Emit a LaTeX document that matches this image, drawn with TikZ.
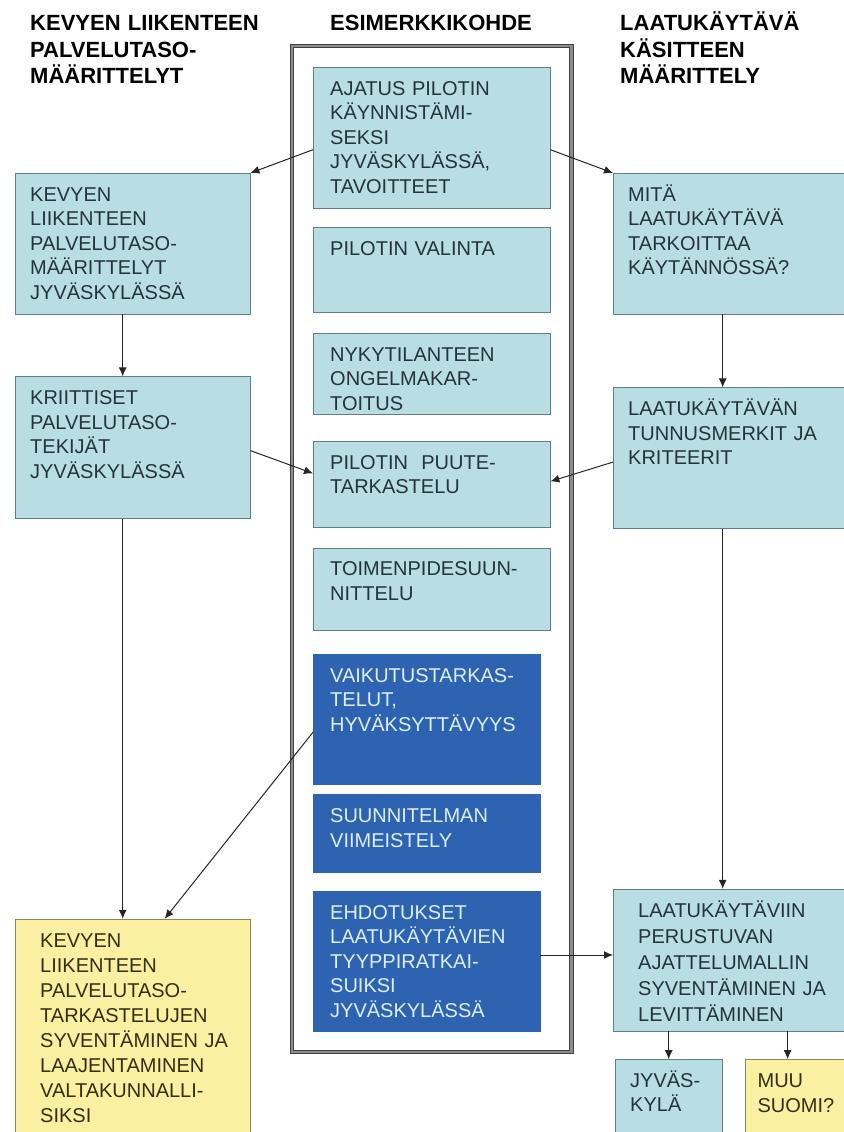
\documentclass[tikz,border=0pt]{standalone}
\usepackage{fontspec}
\setmainfont{Liberation Sans}
\usepackage{tikz}
\usetikzlibrary{positioning, fit, arrows.meta}
\definecolor{vaalea}{HTML}{B8DDE3}
\definecolor{vaaleareuna}{HTML}{5E7F87}
\definecolor{tumma}{HTML}{2E63B2}
\definecolor{tummateksti}{HTML}{DCEFF7}
\definecolor{keltainen}{HTML}{FBF0A2}
\definecolor{keltareuna}{HTML}{8A875E}
\definecolor{teksti}{HTML}{24343A}
\definecolor{keltateksti}{HTML}{332E14}
\tikzstyle{otsikko} = [anchor=base west, align=left, text width=250pt, inner sep=0pt, font=\fontsize{22}{26.5}\selectfont\bfseries]
\tikzstyle{laatikko} = [rectangle, draw=vaaleareuna, fill=vaalea, text=teksti, align=left, inner ysep=13pt, text height=15pt, font=\fontsize{20}{24.5}\selectfont]
\tikzstyle{vaihe} = [laatikko, text width=203pt, inner xsep=17pt]
\tikzstyle{tummavaihe} = [vaihe, draw=tumma, fill=tumma, text=tummateksti, text width=193pt]
\tikzstyle{sivu} = [laatikko, text width=205pt, inner xsep=15pt]
\tikzstyle{oikea} = [laatikko, text width=203pt, inner xsep=15pt]
\tikzstyle{tulos} = [laatikko, fill=keltainen, draw=keltareuna, text=keltateksti, text width=185pt, inner xsep=25pt, font=\fontsize{20}{25}\selectfont]
\tikzstyle{kehys} = [rectangle, draw=black!75, double=black!45, double distance=2.5pt, line width=0.9pt, inner sep=21pt]
\tikzstyle{arrow} = [line width=1pt, draw=black!85, ->, >={Latex[length=9pt,width=8pt]}]

\begin{document}
\begin{tikzpicture}[x=1pt, y=-1pt]
    \useasboundingbox (0,0) rectangle (843,1132);

    % Otsikot
    \node (otsikko1) [otsikko] at (30,31) {KEVYEN LIIKENTEEN\\PALVELUTASO-\\MÄÄRITTELYT};
    \node (otsikko2) [otsikko] at (330,31) {ESIMERKKIKOHDE};
    \node (otsikko3) [otsikko] at (620,31) {LAATUKÄYTÄVÄ\\KÄSITTEEN\\MÄÄRITTELY};

    % Esimerkkikohde
    \node (b1) [vaihe, text depth=100pt, anchor=north west] at (313,67) {AJATUS PILOTIN\\KÄYNNISTÄMI-\\SEKSI\\JYVÄSKYLÄSSÄ,\\TAVOITTEET};
    \node (b2) [vaihe, text depth=44pt, below=19pt of b1] {PILOTIN VALINTA};
    \node (b3) [vaihe, text depth=40pt, below=20pt of b2] {NYKYTILANTEEN\\ONGELMAKAR-\\TOITUS};
    \node (b4) [vaihe, text depth=45pt, below=27pt of b3] {PILOTIN\ \ PUUTE-\\TARKASTELU};
    \node (b5) [vaihe, text depth=41pt, below=20pt of b4] {TOIMENPIDESUUN-\\NITTELU};
    \node (b6) [tummavaihe, text depth=89pt, below right=24pt and 0pt of b5.south west] {VAIKUTUSTARKAS-\\TELUT,\\HYVÄKSYTTÄVYYS};
    \node (b7) [tummavaihe, text depth=37pt, below=10pt of b6] {SUUNNITELMAN\\VIIMEISTELY};
    \node (b8) [tummavaihe, text depth=99pt, below=18pt of b7] {EHDOTUKSET\\LAATUKÄYTÄVIEN\\TYYPPIRATKAI-\\SUIKSI\\JYVÄSKYLÄSSÄ};
    \node (kohde) [kehys, fit=(b1)(b8)] {};

    % Palvelutaso
    \node (l1) [sivu, text depth=100pt, anchor=north west] at (15,173) {KEVYEN\\LIIKENTEEN\\PALVELUTASO-\\MÄÄRITTELYT\\JYVÄSKYLÄSSÄ};
    \node (l2) [sivu, text depth=101pt, below=62pt of l1] {KRIITTISET\\PALVELUTASO-\\TEKIJÄT\\JYVÄSKYLÄSSÄ};
    \node (l3) [tulos, text depth=200pt, below=400pt of l2] {KEVYEN\\LIIKENTEEN\\PALVELUTASO-\\TARKASTELUJEN\\SYVENTÄMINEN~JA\\LAAJENTAMINEN\\VALTAKUNNALLI-\\SIKSI};

    % Laatukäytävä
    \node (r1) [oikea, text depth=100pt, anchor=north west] at (613,173) {MITÄ\\LAATUKÄYTÄVÄ\\TARKOITTAA\\KÄYTÄNNÖSSÄ?};
    \node (r2) [oikea, text depth=100pt, below=73pt of r1] {LAATUKÄYTÄVÄN\\TUNNUSMERKIT~JA\\KRITEERIT};
    \node (r3) [oikea, text width=183pt, inner xsep=25pt, font=\fontsize{20}{26}\selectfont, text depth=101pt, below=360pt of r2] {LAATUKÄYTÄVIIN\\PERUSTUVAN\\AJATTELUMALLIN\\SYVENTÄMINEN~JA\\LEVITTÄMINEN};
    \node (r4) [oikea, text width=77pt, text depth=60pt, below right=28pt and 2pt of r3.south west] {JYVÄS-\\KYLÄ};
    \node (r5) [tulos, text width=90pt, inner xsep=12pt, text depth=60pt, right=23pt of r4] {MUU\\SUOMI?};

    % Yhteydet
    \draw [arrow] ([yshift=-12pt]b1.west) -- (l1.north east);
    \draw [arrow] ([yshift=-12pt]b1.east) -- (r1.north west);
    \draw [arrow] ([xshift=-10pt]l1.south) -- ([xshift=-10pt]l2.north);
    \draw [arrow] ([xshift=-7pt]r1.south) -- ([xshift=-7pt]r2.north);
    \draw [arrow] ([yshift=-3pt]l2.east) -- ([yshift=11pt]b4.west);
    \draw [arrow] ([yshift=-4pt]r2.west) -- ([yshift=3pt]b4.east);
    \draw [arrow] ([xshift=-10pt]l2.south) -- ([xshift=-10pt]l3.north);
    \draw [arrow] ([yshift=-13pt]b6.west) -- ([xshift=32pt]l3.north);
    \draw [arrow] ([xshift=-7pt]r2.south) -- ([xshift=-7pt]r3.north);
    \draw [arrow] ([yshift=6pt]b8.east) -- ([yshift=6pt]b8.east -| r3.west);
    \draw [arrow] (r4.north |- r3.south) -- (r4.north);
    \draw [arrow] ([xshift=-15pt]r5.north |- r3.south) -- ([xshift=-15pt]r5.north);

\end{tikzpicture}
\end{document}
